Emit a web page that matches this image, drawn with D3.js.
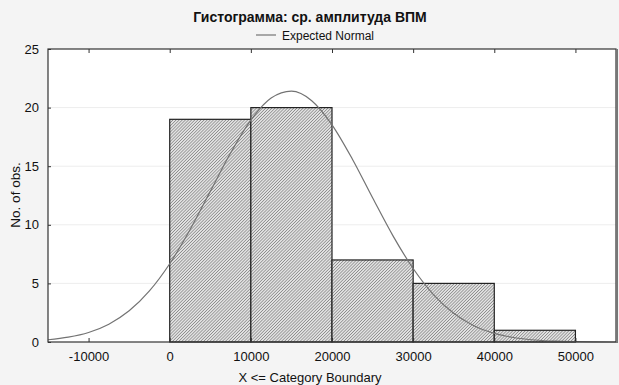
<!DOCTYPE html>
<html>
<head>
<meta charset="utf-8">
<script src="https://cdn.jsdelivr.net/npm/d3@7"></script>
<style>
  body { margin: 0; background: #f4f4f4; }
  svg { display: block; font-family: "Liberation Sans", Arial, sans-serif; }
</style>
</head>
<body>
<svg id="chart" width="619" height="385"></svg>
<script>
// histogram bins (upper boundaries) and counts
var binStarts = [0, 10000, 20000, 30000, 40000];
var binEnds = [10000, 20000, 30000, 40000, 50000];
var counts = [19, 20, 7, 5, 1];

// expected normal curve
var curveX = [-15000, -12500, -10000, -7500, -5000, -2500, 0, 2500, 5000, 7500, 10000, 12500, 15000,
  17500, 20000, 22500, 25000, 27500, 30000, 32500, 35000, 37500, 40000, 42500, 45000, 47500, 50000, 52500, 55000];
var curveY = [0.19, 0.41, 0.81, 1.52, 2.66, 4.36, 6.68, 9.58, 12.85, 16.12, 18.93, 20.81, 21.4,
  20.59, 18.53, 15.62, 12.31, 9.08, 6.27, 4.05, 2.45, 1.38, 0.73, 0.36, 0.17, 0.07, 0.03, 0.01, 0.0];

var xTicks = [-10000, 0, 10000, 20000, 30000, 40000, 50000];
var yTicks = [0, 5, 10, 15, 20, 25];

var plotLeft = 48, plotRight = 616, plotTop = 49, plotBottom = 342;

var svg = d3.select("#chart");

var x = d3.scaleLinear().domain([-15000, 55000]).range([plotLeft, plotRight]);
var y = d3.scaleLinear().domain([0, 25]).range([plotBottom, plotTop]);

// fine hatch pattern for bars
var defs = svg.append("defs");
var pat = defs.append("pattern")
  .attr("id", "hatch")
  .attr("patternUnits", "userSpaceOnUse")
  .attr("width", 2.2)
  .attr("height", 2.2)
  .attr("patternTransform", "rotate(45)");
pat.append("rect").attr("width", 2.2).attr("height", 2.2).attr("fill", "#e2e2e2");
pat.append("line")
  .attr("x1", 0).attr("y1", 0).attr("x2", 0).attr("y2", 2.2)
  .attr("stroke", "#6e6e6e").attr("stroke-width", 1.1);

// plot background
svg.append("rect")
  .attr("x", plotLeft).attr("y", plotTop)
  .attr("width", plotRight - plotLeft).attr("height", plotBottom - plotTop)
  .attr("fill", "#fff");

// gridlines
svg.append("g").selectAll("line")
  .data(yTicks.slice(1, -1)).enter()
  .append("line")
  .attr("x1", plotLeft).attr("x2", plotRight)
  .attr("y1", function(d) { return y(d); })
  .attr("y2", function(d) { return y(d); })
  .attr("stroke", "#ededed");

// bars
svg.append("g").selectAll("rect")
  .data(counts).enter()
  .append("rect")
  .attr("x", function(d, i) { return x(binStarts[i]); })
  .attr("y", function(d) { return y(d); })
  .attr("width", function(d, i) { return x(binEnds[i]) - x(binStarts[i]); })
  .attr("height", function(d) { return y(0) - y(d); })
  .attr("fill", "url(#hatch)")
  .attr("stroke", "#222")
  .attr("stroke-width", 1.2);

// normal curve
var line = d3.line()
  .x(function(d, i) { return x(curveX[i]); })
  .y(function(d) { return y(d); })
  .curve(d3.curveMonotoneX);
svg.append("path")
  .datum(curveY)
  .attr("d", line)
  .attr("fill", "none")
  .attr("stroke", "#737373")
  .attr("stroke-width", 1.2);

// frame
svg.append("rect")
  .attr("x", plotLeft).attr("y", plotTop)
  .attr("width", plotRight - plotLeft).attr("height", plotBottom - plotTop)
  .attr("fill", "none")
  .attr("stroke", "#333")
  .attr("stroke-width", 1.2);
svg.append("line")
  .attr("x1", plotRight + 1).attr("x2", plotRight + 1)
  .attr("y1", plotTop).attr("y2", plotBottom + 1)
  .attr("stroke", "#777").attr("stroke-width", 2);

// axes
var fmt = function(d) { return String(d); };
var xAxis = d3.axisBottom(x).tickValues(xTicks).tickSize(-4).tickPadding(10).tickFormat(fmt);
svg.append("g")
  .attr("transform", "translate(0," + plotBottom + ")")
  .call(xAxis)
  .call(function(g) { g.select(".domain").remove(); });

var xTop = d3.axisTop(x).tickValues(xTicks).tickSize(-4).tickFormat("");
svg.append("g")
  .attr("transform", "translate(0," + plotTop + ")")
  .call(xTop)
  .call(function(g) { g.select(".domain").remove(); });

var yAxis = d3.axisLeft(y).tickValues(yTicks).tickSize(-3).tickPadding(9).tickFormat(fmt);
svg.append("g")
  .attr("transform", "translate(" + plotLeft + ",0)")
  .call(yAxis)
  .call(function(g) { g.select(".domain").remove(); });

svg.selectAll(".tick text")
  .attr("font-size", 13)
  .attr("font-family", "Liberation Sans, Arial, sans-serif")
  .attr("fill", "#111");
svg.selectAll(".tick line").attr("stroke", "#333");

// titles
svg.append("text")
  .attr("x", 310).attr("y", 22)
  .attr("text-anchor", "middle")
  .attr("font-size", 14).attr("font-weight", "bold")
  .attr("fill", "#111")
  .text("Гистограмма: ср. амплитуда ВПМ");

svg.append("line")
  .attr("x1", 256).attr("x2", 276)
  .attr("y1", 35).attr("y2", 35)
  .attr("stroke", "#737373").attr("stroke-width", 1.2);
svg.append("text")
  .attr("x", 282).attr("y", 39.5)
  .attr("font-size", 12)
  .attr("fill", "#111")
  .text("Expected Normal");

svg.append("text")
  .attr("x", 310).attr("y", 382)
  .attr("text-anchor", "middle")
  .attr("font-size", 13)
  .attr("fill", "#111")
  .text("X <= Category Boundary");

svg.append("text")
  .attr("transform", "translate(20,195) rotate(-90)")
  .attr("text-anchor", "middle")
  .attr("font-size", 13.5)
  .attr("fill", "#111")
  .text("No. of obs.");
</script>
</body>
</html>
